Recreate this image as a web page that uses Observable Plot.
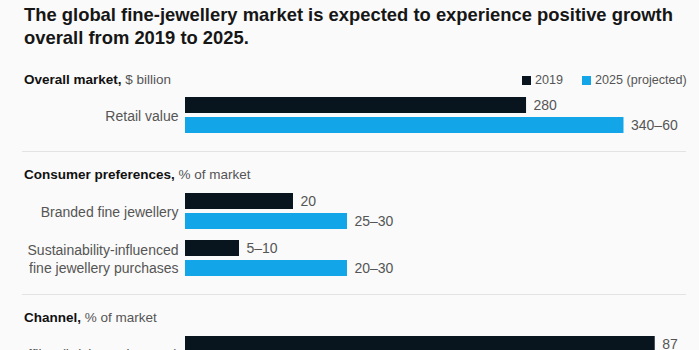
<!DOCTYPE html>
<html><head><meta charset="utf-8">
<script src="https://cdn.jsdelivr.net/npm/d3@7"></script>
<script src="https://cdn.jsdelivr.net/npm/@observablehq/plot@0.6"></script>
<style>
html,body{margin:0;padding:0;width:699px;height:350px;overflow:hidden;background:#fafafa;font-family:"Liberation Sans",Arial,sans-serif;}
#title{position:absolute;left:24px;top:3px;font-weight:bold;font-size:18.4px;line-height:23px;color:#161616;white-space:nowrap;}
.head{position:absolute;left:24px;font-size:13.5px;color:#555;line-height:16px;white-space:nowrap;}
.head b{color:#111}
.rule{position:absolute;left:22px;width:664px;height:1px;background:#e3e3e3}
.chart{position:absolute;left:0}
#legend{position:absolute;top:72px;left:522px;font-size:12.6px;color:#555;line-height:16px;display:flex;align-items:center;white-space:nowrap;}
#legend .sw{display:inline-block;width:9px;height:9px;margin-right:4px}
#legend .item{display:flex;align-items:center;margin-right:19px}
</style></head>
<body>
<div id="title">The global fine-jewellery market is expected to experience positive growth<br>overall from 2019 to 2025.</div>
<div class="head" style="top:72px"><b>Overall market,</b> $ billion</div>
<div id="legend"></div>
<div class="rule" style="top:151px"></div>
<div class="head" style="top:167px"><b>Consumer preferences,</b> % of market</div>
<div class="rule" style="top:294px"></div>
<div class="head" style="top:310px"><b>Channel,</b> % of market</div>
<div id="c1" class="chart" style="top:95px"></div>
<div id="c2" class="chart" style="top:191px"></div>
<div id="c3" class="chart" style="top:334px"></div>
<script>
const series = ["2019", "2025 (projected)"];
const colors = ["#08151f", "#12a5e8"];

const overallCategories = ["Retail value"];
const overall2019Low = [280];
const overall2019High = [280];
const overall2025Low = [340];
const overall2025High = [360];
const overall2019Labels = ["280"];
const overall2025Labels = ["340–60"];

const prefCategories = ["Branded fine jewellery", "Sustainability-influenced\nfine jewellery purchases"];
const pref2019Low = [20, 5];
const pref2019High = [20, 10];
const pref2025Low = [25, 20];
const pref2025High = [30, 30];
const pref2019Labels = ["20", "5–10"];
const pref2025Labels = ["25–30", "20–30"];

const channelCategories = ["Offline (bricks and mortar)"];
const channel2019Low = [87];
const channel2019High = [87];
const channel2019Labels = ["87"];

function buildRows(cats, parts) {
  const rows = [];
  cats.forEach((c, i) => {
    parts.forEach(p => {
      rows.push({category: c, series: p.series, low: p.low[i], high: p.high[i], label: p.labels[i]});
    });
  });
  return rows;
}

const bg = "#fafafa";
function panel(categories, rows, domainMax, height, fyPad) {
  return Plot.plot({
    width: 699, height, marginLeft: 185, marginRight: 0, marginTop: 0, marginBottom: 0,
    style: {background: "transparent", overflow: "visible", fontFamily: "'Liberation Sans', Arial, sans-serif", fontSize: "14px"},
    x: {domain: [0, domainMax], axis: null},
    y: {domain: series, axis: null, paddingInner: 0.2, paddingOuter: 0.1},
    fy: {domain: categories, paddingInner: fyPad, paddingOuter: 0, label: null},
    color: {domain: series, range: colors},
    marks: [
      Plot.axisFy({anchor: "left", tickSize: 0, tickPadding: 7, fontSize: 14, lineHeight: 1.22, color: "#555", label: null}),
      Plot.barX(rows, {fy: "category", y: "series", x: "high", fill: "series"}),
      Plot.ruleX(rows.filter(d => d.low < d.high), {fy: "category", y: "series", x: "low", stroke: bg, strokeWidth: 1.5}),
      Plot.text(rows, {fy: "category", y: "series", x: "high", text: "label", textAnchor: "start", dx: 7, fill: "#555", fontSize: 14})
    ]
  });
}

const rows1 = buildRows(overallCategories, [
  {series: series[0], low: overall2019Low, high: overall2019High, labels: overall2019Labels},
  {series: series[1], low: overall2025Low, high: overall2025High, labels: overall2025Labels}
]);
const rows2 = buildRows(prefCategories, [
  {series: series[0], low: pref2019Low, high: pref2019High, labels: pref2019Labels},
  {series: series[1], low: pref2025Low, high: pref2025High, labels: pref2025Labels}
]);
const rows3 = buildRows(channelCategories, [
  {series: series[0], low: channel2019Low, high: channel2019High, labels: channel2019Labels}
]);

document.getElementById("c1").appendChild(panel(overallCategories, rows1, 422, 40, 0));
document.getElementById("c2").appendChild(panel(prefCategories, rows2, 95.2, 87, 7/47));
document.getElementById("c3").appendChild(panel(channelCategories, rows3, 95.2, 40, 0));

const legend = document.getElementById("legend");
series.forEach((s, i) => {
  const item = document.createElement("span");
  item.className = "item";
  const sw = document.createElement("span");
  sw.className = "sw";
  sw.style.background = colors[i];
  item.appendChild(sw);
  item.appendChild(document.createTextNode(s));
  legend.appendChild(item);
});
</script>
</body></html>
